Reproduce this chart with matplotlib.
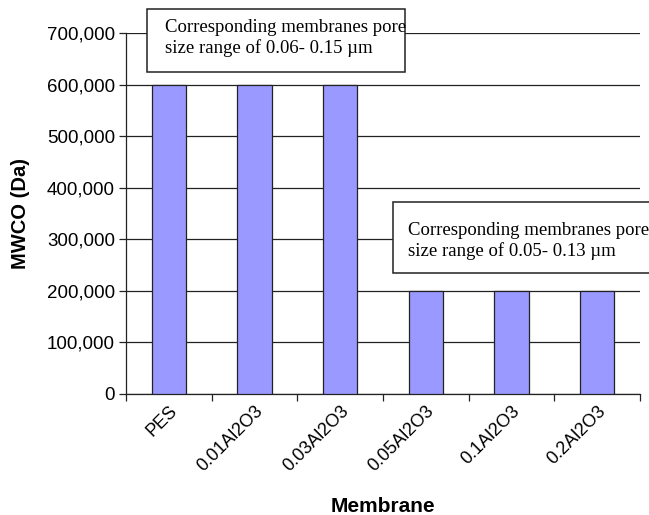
import matplotlib
matplotlib.use("Agg")
import matplotlib.pyplot as plt
from matplotlib.patches import Rectangle
import numpy as np
from matplotlib.ticker import FuncFormatter, FixedLocator

# Data
membranes = ["PES", "0.01Al2O3", "0.03Al2O3", "0.05Al2O3", "0.1Al2O3", "0.2Al2O3"]
mwco = [600000, 600000, 600000, 200000, 200000, 200000]
y_ticks = [0, 100000, 200000, 300000, 400000, 500000, 600000, 700000]
note_high = "Corresponding membranes pore\nsize range of 0.06- 0.15 \u00b5m"
note_low = "Corresponding membranes pore\nsize range of 0.05- 0.13 \u00b5m"

plt.rcParams['font.family'] = ['Liberation Sans', 'DejaVu Sans']

W, H = 649, 515
fig = plt.figure(figsize=(W / 100, H / 100), dpi=100)
ax = fig.add_axes([126 / W, 1 - 394 / H, (640 - 126) / W, (394 - 33) / H])

x = np.arange(len(membranes))
ax.bar(x, mwco, width=0.4, color="#9999FF", edgecolor="#222222", linewidth=0.9, zorder=3)

ax.set_xlim(-0.5, len(membranes) - 0.5)
ax.set_ylim(0, 700000)
ax.set_yticks(y_ticks)
ax.yaxis.set_major_formatter(FuncFormatter(lambda v, p: f"{int(v):,}"))
ax.yaxis.grid(True, color="#222222", linewidth=0.9, zorder=1)
ax.set_axisbelow(True)

# category labels at centres, tick marks at category boundaries
ax.set_xticks(x)
ax.set_xticklabels(membranes, rotation=45, ha="right", rotation_mode="anchor", fontsize=13)
ax.tick_params(axis="x", which="major", length=0, pad=6)
ax.xaxis.set_minor_locator(FixedLocator(np.arange(-0.5, len(membranes), 1.0)))
ax.tick_params(axis="x", which="minor", length=5, width=0.9, color="#222222")
ax.tick_params(axis="y", length=5, width=0.9, color="#222222", labelsize=13.5, pad=3)

for s in ["top", "right"]:
    ax.spines[s].set_visible(False)
for s in ["left", "bottom"]:
    ax.spines[s].set_color("#222222")
    ax.spines[s].set_linewidth(0.9)

ax.set_xlabel("Membrane", fontsize=15, fontweight="bold", labelpad=16)
ax.set_ylabel("MWCO (Da)", fontsize=14.5, fontweight="bold", labelpad=12)


def note_box(x0, y0, x1, y1, tx, ty, text):
    """Draw a white framed note box given in pixel coordinates from the top-left."""
    fig.patches.append(Rectangle((x0 / W, 1 - y1 / H), (x1 - x0) / W, (y1 - y0) / H,
                                 transform=fig.transFigure, facecolor="white",
                                 edgecolor="#222222", linewidth=1.1, zorder=5))
    fig.text(tx / W, 1 - ty / H, text, fontsize=13.5,
             family=["Liberation Serif", "DejaVu Serif"],
             va="center", ha="left", linespacing=1.18, zorder=6)


note_box(147, 9, 405, 72, 165, 38, note_high)
note_box(393, 202, 670, 273, 408, 241, note_low)

fig.savefig("out.png", dpi=100)
